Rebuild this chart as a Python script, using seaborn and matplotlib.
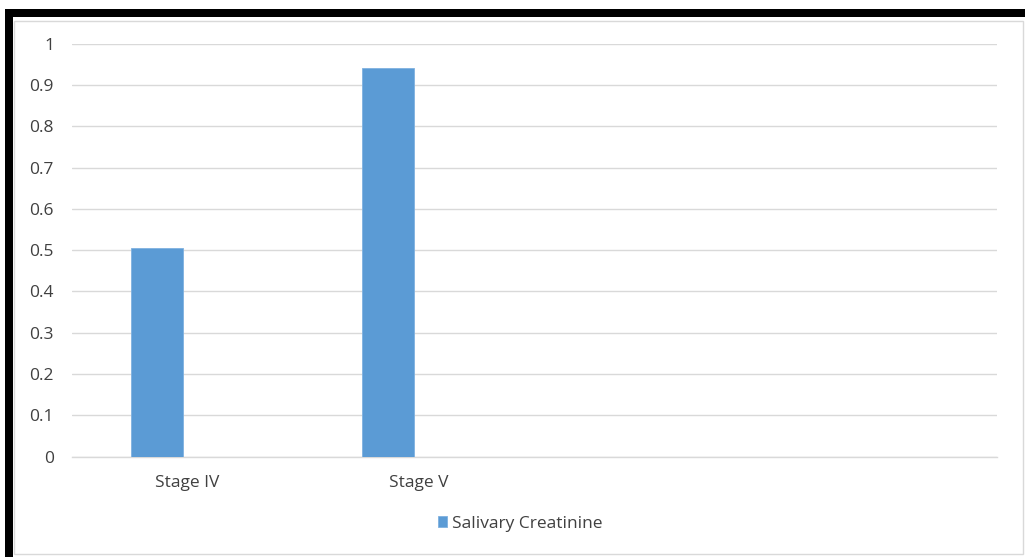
import matplotlib
matplotlib.use("Agg")
import matplotlib.pyplot as plt
from matplotlib.patches import Rectangle
import numpy as np
import pandas as pd
import seaborn as sns

# Chart data
categories = ["Stage IV", "Stage V", "", ""]
series_name = "Salivary Creatinine"
values = [0.506, 0.942]
y_ticks = [0, 0.1, 0.2, 0.3, 0.4, 0.5, 0.6, 0.7, 0.8, 0.9, 1]
y_tick_labels = ["0", "0.1", "0.2", "0.3", "0.4", "0.5", "0.6", "0.7", "0.8", "0.9", "1"]

BAR_COLOR = "#5B9BD5"
GRID_COLOR = "#D9D9D9"
TEXT_COLOR = "#404040"
bar_shift = -0.134   # first series sits left of the category centre
bar_width = 0.225

sns.set_theme(style="white")
plt.rcParams["font.family"] = ["Open Sans", "DejaVu Sans"]

W, H, DPI = 1025, 557, 100
fig = plt.figure(figsize=(W / DPI, H / DPI), dpi=DPI)
ax = fig.add_axes([72 / W, 1 - 456.7 / H, (997 - 72) / W, (456.7 - 43.7) / H])

df = pd.DataFrame({
    "pos": np.arange(len(values)) + bar_shift,
    "value": values,
    "series": series_name,
})
sns.barplot(data=df, x="pos", y="value", hue="series", native_scale=True,
            width=bar_width, palette=[BAR_COLOR], saturation=1,
            edgecolor="#7FB1E0", linewidth=0.6, ax=ax, legend=True, zorder=3)

ax.set_xlim(-0.5, len(categories) - 0.5)
ax.set_ylim(0, 1)
ax.set_xticks(range(len(categories)))
ax.set_xticklabels(categories)
ax.set_yticks(y_ticks)
ax.set_yticklabels(y_tick_labels)
ax.set_xlabel("")
ax.set_ylabel("")

ax.grid(axis="y", color=GRID_COLOR, linewidth=1.0, zorder=0)
ax.grid(axis="x", visible=False)
for side in ["top", "right", "left"]:
    ax.spines[side].set_visible(False)
ax.spines["bottom"].set_color(GRID_COLOR)
ax.spines["bottom"].set_linewidth(1.0)
ax.tick_params(axis="both", length=0, labelsize=12.5, colors=TEXT_COLOR)
ax.tick_params(axis="y", pad=13)
ax.tick_params(axis="x", pad=13)

leg = ax.legend(loc="center", bbox_to_anchor=(520 / W, 1 - 523.5 / H),
                bbox_transform=fig.transFigure, frameon=False, fontsize=12.5,
                handlelength=0.55, handleheight=0.55, handletextpad=0.25)
for t in leg.get_texts():
    t.set_color(TEXT_COLOR)

# Outer frame: heavy black top and left edges, thin grey chart border
fig.patches.append(Rectangle((5 / W, 0), 8 / W, 1 - 9 / H, transform=fig.transFigure,
                             facecolor="black", edgecolor="none"))
fig.patches.append(Rectangle((5 / W, 1 - 17 / H), 1 - 5 / W, 8 / H, transform=fig.transFigure,
                             facecolor="black", edgecolor="none"))
fig.patches.append(Rectangle((13.5 / W, 1 - 554 / H), (1022.5 - 13.5) / W, (554 - 20.5) / H,
                             transform=fig.transFigure, facecolor="none",
                             edgecolor="#D9D9D9", linewidth=1.0))

fig.savefig("out.png", dpi=DPI)
